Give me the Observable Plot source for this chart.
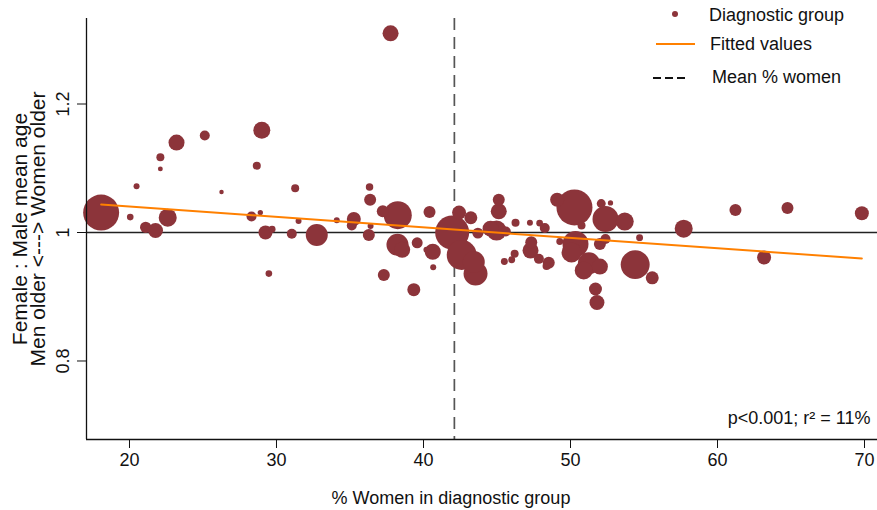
<!DOCTYPE html>
<html><head><meta charset="utf-8">
<script src="https://cdn.jsdelivr.net/npm/d3@7"></script>
<script src="https://cdn.jsdelivr.net/npm/@observablehq/plot@0.6"></script>
<style>
body{margin:0;background:#fff;}
#wrap{position:relative;width:877px;height:510px;font-family:"Liberation Sans",Arial,Helvetica,sans-serif;}
#legend{position:absolute;left:0;top:0;pointer-events:none;}
</style></head><body><div id="wrap"></div>
<script>
// ---- data ----
const pctWomen = [18.07,20.05,20.48,21.1,21.77,22.6,22.1,22.1,23.2,25.12,
  26.26,29.0,28.66,28.3,28.9,29.25,29.7,31.27,31.04,31.5,
  29.48,32.74,37.76,34.1,35.26,35.12,36.33,36.37,36.4,36.28,
  37.23,38.25,40.41,38.23,38.55,39.57,40.2,40.63,40.66,37.3,
  39.34,41.95,42.42,43.22,42.6,43.42,43.54,43.7,45.12,45.12,
  44.97,44.56,45.6,46.26,47.24,47.9,48.25,47.33,47.28,47.85,
  48.52,48.37,46.2,46.0,45.5,49.27,49.09,50.27,50.75,52.09,
  52.72,52.38,53.69,50.34,50.07,52.0,52.38,51.25,50.9,52.0,
  51.7,51.8,54.4,55.56,54.7,57.7,61.22,64.76,69.82,63.17];
const ageRatio = [1.031,1.024,1.072,1.008,1.003,1.023,1.117,1.099,1.140,1.151,
  1.063,1.159,1.104,1.025,1.031,1.000,1.005,1.069,0.998,1.018,
  0.936,0.996,1.310,1.019,1.021,1.011,1.071,1.051,1.010,0.996,
  1.033,1.027,1.032,0.981,0.973,0.984,0.973,0.970,0.946,0.934,
  0.911,1.000,1.031,1.023,0.965,0.954,0.936,0.999,1.051,1.033,
  1.003,1.006,1.0015,1.015,1.015,1.0145,1.007,0.985,0.972,0.959,
  0.953,0.948,0.967,0.9575,0.955,0.986,1.051,1.039,1.011,1.045,
  1.046,1.021,1.017,0.982,0.969,0.982,0.990,0.952,0.941,0.947,
  0.912,0.891,0.950,0.9295,0.992,1.006,1.035,1.038,1.030,0.961];
const groupSize = [324,11,9,32,56,81,16,6,64,25,
  5,72,16,25,7,49,12,16,25,9,
  11,121,64,9,49,25,14,36,9,36,
  36,196,36,121,64,30,9,64,9,36,
  42,289,49,42,225,121,144,30,36,64,
  100,64,25,16,9,11,25,36,64,25,
  36,16,16,12,12,12,49,324,16,20,
  7,169,81,169,100,36,25,121,81,64,
  42,56,210,42,12,81,36,36,49,49];
const fitX = [18.07, 69.82];
const fitY = [1.0436, 0.9595];
const meanWomen = 42.1;
const refRatio = 1;
const xTicks = [20,30,40,50,60,70];
const yTicks = [0.8,1,1.2];
const yTickLabels = ["0.8","1","1.2"];
const xDomain = [17.075, 70.884];
const yDomain = [0.6778, 1.3331];

const groups = pctWomen.map((x,i)=>({x, y: ageRatio[i], n: groupSize[i]}));
const fit = fitX.map((x,i)=>({x, y: fitY[i]}));

const cranberry = "#8c343a";
const orange = "#ff8000";

const chart = Plot.plot({
  width: 877, height: 510,
  marginLeft: 86, marginRight: 0, marginTop: 18, marginBottom: 71,
  style: {fontFamily: '"Liberation Sans", Arial, Helvetica, sans-serif', background: "#fff", color: "#111"},
  x: {domain: xDomain},
  y: {domain: yDomain},
  r: {domain: [0, 324], range: [0, 18]},
  marks: [
    Plot.ruleY([refRatio], {stroke: "#222", strokeWidth: 1.3}),
    Plot.ruleX([meanWomen], {stroke: "#555", strokeWidth: 1.7, strokeDasharray: "12,7"}),
    Plot.dot(groups, {x: "x", y: "y", r: "n", fill: cranberry, stroke: "none"}),
    Plot.line(fit, {x: "x", y: "y", stroke: orange, strokeWidth: 2}),
    Plot.ruleX([xDomain[0]], {stroke: "#111", strokeWidth: 1.3}),
    Plot.ruleY([yDomain[0]], {stroke: "#111", strokeWidth: 1.3}),
    Plot.axisX(xTicks, {tickSize: 9, tickPadding: 5, fontSize: 18, label: null, stroke: "#111"}),
    Plot.axisY(yTicks, {tickSize: 9, tickPadding: 9, tickRotate: -90, fontSize: 18, label: null, stroke: "#111",
      tickFormat: (d) => yTickLabels[yTicks.indexOf(d)]}),
    Plot.text(["% Women in diagnostic group"], {frameAnchor: "bottom", dx: -31, dy: 64, lineAnchor: "bottom", fontSize: 18, fill: "#111"}),
    Plot.text(["Female : Male mean age\nMen older <---> Women older"], {frameAnchor: "left", rotate: -90, dx: -56, dy: 0,
      lineAnchor: "middle", textAnchor: "middle", fontSize: 21, lineHeight: 0.82, fill: "#111"}),
    Plot.text(["p<0.001; r\u00B2 = 11%"], {frameAnchor: "bottom-right", textAnchor: "end", lineAnchor: "bottom", dx: -7, dy: -16, fontSize: 18, fill: "#111"})
  ]
});

const wrap = document.getElementById("wrap");
wrap.appendChild(chart);

// legend overlay
const ns = "http://www.w3.org/2000/svg";
const leg = document.createElementNS(ns, "svg");
leg.setAttribute("id", "legend");
leg.setAttribute("width", 877);
leg.setAttribute("height", 110);
leg.innerHTML = `
  <circle cx="675" cy="14" r="3" fill="${cranberry}"/>
  <text x="709" y="21" font-size="18" fill="#111">Diagnostic group</text>
  <line x1="656" x2="695" y1="44" y2="44" stroke="${orange}" stroke-width="2"/>
  <text x="710" y="50" font-size="18" fill="#111">Fitted values</text>
  <line x1="653" x2="686" y1="78" y2="78" stroke="#111" stroke-width="2" stroke-dasharray="8,4"/>
  <text x="712" y="83" font-size="18" fill="#111">Mean % women</text>`;
leg.style.fontFamily = '"Liberation Sans", Arial, Helvetica, sans-serif';
wrap.appendChild(leg);
</script>
</body></html>
